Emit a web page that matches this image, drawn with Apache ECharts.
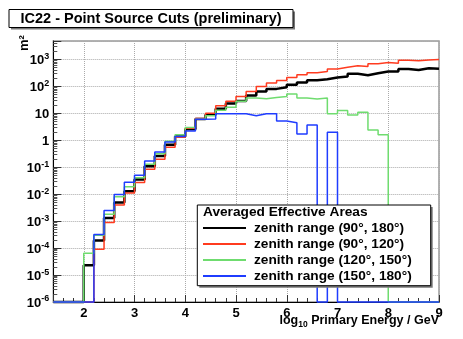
<!DOCTYPE html>
<html>
<head>
<meta charset="utf-8">
<script src="https://cdn.jsdelivr.net/npm/echarts@6/dist/echarts.min.js"></script>
<style>
html, body { margin: 0; padding: 0; background: #fff; }
#chart { width: 463px; height: 339px; }
</style>
</head>
<body>
<div id="chart"></div>
<script>
// bin edges in log10(E/GeV), bins of 0.2
var binEdges = [1.4, 1.6, 1.8, 2.0, 2.2, 2.4, 2.6, 2.8, 3.0, 3.2, 3.4, 3.6, 3.8,
  4.0, 4.2, 4.4, 4.6, 4.8, 5.0, 5.2, 5.4, 5.6, 5.8, 6.0, 6.2, 6.4, 6.6, 6.8,
  7.0, 7.2, 7.4, 7.6, 7.8, 8.0, 8.2, 8.4, 8.6, 8.8, 9.0];

// effective area (m^2) per bin, 0 = empty bin
var zen90_180 = [0, 0, 0, 2.3e-5, 1.9e-4, 1.3e-3, 4.9e-3, 0.013, 0.035, 0.11, 0.26, 0.69, 1.4,
  2.6, 6.2, 8.9, 15, 23, 29, 46, 65, 81, 94, 115, 140, 170, 186, 214,
  233, 295, 262, 310, 355, 355, 447, 410, 475, 450];
var zen90_120 = [0, 0, 0, 0, 9e-5, 9e-4, 4e-3, 0.011, 0.027, 0.085, 0.2, 0.55, 1.3,
  2.8, 6.5, 10, 19, 28, 42, 65, 99, 133, 165, 214, 270, 325, 355, 447,
  515, 590, 545, 690, 765, 725, 940, 890, 960, 1000];
var zen120_150 = [0, 0, 0, 6.5e-5, 3e-4, 1.8e-3, 8e-3, 0.019, 0.041, 0.13, 0.32, 0.92, 1.6,
  3.0, 6.0, 8.2, 13, 17, 28, 37, 35, 39, 42, 52, 37, 34, 37, 9.7,
  12.8, 8.7, 10.9, 2.4, 1.6, 0, 0, 0, 0, 0];
var zen150_180 = [0, 0, 0, 0, 3.2e-4, 2.5e-3, 9.8e-3, 0.028, 0.051, 0.17, 0.37, 0.87, 1.4,
  2.2, 6.1, 6.2, 9.7, 9.7, 9.7, 8.2, 9.7, 9.7, 5.2, 4.5, 1.7, 3.7, 0, 2.0,
  0, 0, 0, 0, 0, 0, 0, 0, 0, 0];

var seriesNames = ['zenith range (90°, 180°)', 'zenith range (90°, 120°)',
  'zenith range (120°, 150°)', 'zenith range (150°, 180°)'];
var seriesColors = ['#000000', '#ff3b1f', '#6fdc6f', '#1f3cff'];
var seriesWidths = [2.5, 1.5, 1.5, 1.5];

var yMin = 1e-6, yMax = 4850;
var FONT = '"Liberation Sans", Arial, Helvetica, sans-serif';

// histogram outline: one point per bin start, plus the closing edge
function histPoints(vals) {
  var pts = [];
  for (var i = 0; i < vals.length; i++) {
    pts.push([binEdges[i], vals[i] > 0 ? vals[i] : yMin]);
  }
  pts.push([binEdges[vals.length], vals[vals.length - 1] > 0 ? vals[vals.length - 1] : yMin]);
  return pts;
}

var allData = [zen90_180, zen90_120, zen120_150, zen150_180];
var series = allData.map(function (vals, i) {
  return {
    name: seriesNames[i],
    type: 'line',
    step: 'end',
    symbol: 'none',
    clip: false,
    data: histPoints(vals),
    color: seriesColors[i],
    lineStyle: { color: seriesColors[i], width: seriesWidths[i] }
  };
});

var myChart = echarts.init(document.getElementById('chart'));
myChart.setOption({
  animation: false,
  grid: { left: 53.3, right: 24, top: 41, bottom: 37, show: true, borderColor: '#999', borderWidth: 1.5 },
  xAxis: {
    type: 'value', min: 1.4, max: 9, splitNumber: 8, minInterval: 1, maxInterval: 1,
    axisLine: { lineStyle: { color: '#000', width: 1 } },
    axisTick: { inside: true, length: 7, lineStyle: { color: '#333' } },
    minorTick: { show: true, splitNumber: 5, length: 4, lineStyle: { color: '#333' } },
    splitLine: { show: true, lineStyle: { color: '#aaa', type: 'dotted' } },
    axisLabel: {
      color: '#000', fontSize: 13, fontWeight: 'bold', fontFamily: FONT, margin: 5,
      formatter: function (v) { return Math.abs(v - Math.round(v)) < 1e-6 ? String(Math.round(v)) : ''; }
    }
  },
  yAxis: {
    type: 'log', logBase: 10, min: yMin, max: yMax,
    axisLine: { lineStyle: { color: '#000', width: 1 } },
    axisTick: { inside: true, length: 8, lineStyle: { color: '#333' } },
    minorTick: { show: true, splitNumber: 9, length: 4, lineStyle: { color: '#555' } },
    splitLine: { show: true, lineStyle: { color: '#aaa', type: 'dotted' } },
    axisLabel: {
      margin: 4,
      formatter: function (v) {
        var l = Math.log10(v), e = Math.round(l);
        if (Math.abs(l - e) > 0.01) return '';
        if (e === 0) return '{b|1}';
        if (e === 1) return '{b|10}';
        return '{b|10}{s|' + e + '}';
      },
      rich: {
        b: { fontSize: 13, fontWeight: 'bold', fontFamily: FONT, color: '#000', lineHeight: 15, verticalAlign: 'bottom' },
        s: { fontSize: 9, fontWeight: 'bold', fontFamily: FONT, color: '#000', lineHeight: 9, padding: [0, 0, 6, 0], verticalAlign: 'top' }
      }
    }
  },
  legend: {
    left: 203, top: 221, orient: 'vertical', zlevel: 2, padding: 0,
    icon: 'rect', itemWidth: 43, itemHeight: 2, itemGap: 2,
    data: seriesNames,
    textStyle: { fontSize: 13.7, fontWeight: 'bold', fontFamily: FONT, color: '#000', lineHeight: 14, padding: [0, 0, 0, 3] }
  },
  graphic: [
    { type: 'rect', zlevel: 1, shape: { x: 11, y: 11.5, width: 284, height: 18 }, style: { fill: '#777' } },
    { type: 'rect', zlevel: 1, z: 1, shape: { x: 9, y: 9.5, width: 284, height: 18 }, style: { fill: '#fff', stroke: '#000', lineWidth: 1 } },
    { type: 'text', zlevel: 2, x: 151, y: 18.7,
      style: { text: 'IC22 - Point Source Cuts (preliminary)', font: 'bold 14.5px ' + FONT, fill: '#000', align: 'center', verticalAlign: 'middle' } },
    { type: 'text', zlevel: 2, x: 24, y: 43, rotation: Math.PI / 2,
      style: { text: 'm²', font: 'bold 13px ' + FONT, fill: '#000', align: 'center', verticalAlign: 'middle' } },
    { type: 'text', zlevel: 2, x: 439, y: 322,
      style: {
        text: '{a|log}{s|10}{a| Primary Energy / GeV}', align: 'right', verticalAlign: 'middle',
        rich: {
          a: { fontSize: 12.5, fontWeight: 'bold', fontFamily: FONT, color: '#000', lineHeight: 15, verticalAlign: 'top' },
          s: { fontSize: 8.5, fontWeight: 'bold', fontFamily: FONT, color: '#000', lineHeight: 10, padding: [7, 0, 0, 0], verticalAlign: 'bottom' }
        }
      } },
    { type: 'rect', zlevel: 1, shape: { x: 199.3, y: 207, width: 233.4, height: 80.7 }, style: { fill: '#777' } },
    { type: 'rect', zlevel: 1, z: 1, shape: { x: 197.3, y: 205, width: 233.4, height: 80.7 }, style: { fill: '#fff', stroke: '#000', lineWidth: 1 } },
    { type: 'text', zlevel: 2, x: 203, y: 212,
      style: { text: 'Averaged Effective Areas', font: 'bold 13.7px ' + FONT, fill: '#000', align: 'left', verticalAlign: 'middle' } }
  ],
  series: series
});
</script>
</body>
</html>
